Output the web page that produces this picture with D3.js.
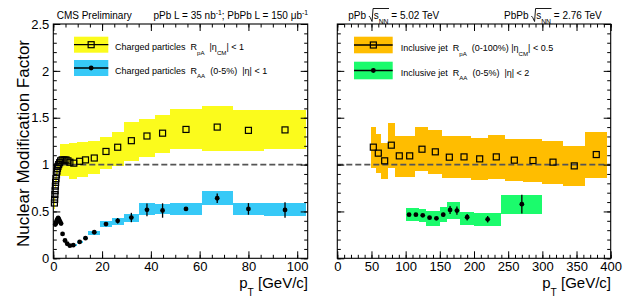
<!DOCTYPE html>
<html lang="en">
<head>
<meta charset="utf-8">
<title>Nuclear Modification Factor</title>
<script src="https://d3js.org/d3.v7.min.js"></script>
<style>
  body { margin: 0; background: #fff; }
  svg { display: block; }
</style>
</head>
<body>
<script>

// ---- charged particles R_pA (yellow band, open squares)
var chRpAPt = [0.45,0.55,0.65,0.75,0.85,0.95,1.1,1.3,1.5,1.7,1.9,2.2,2.6,3.0,
               3.6,4.4,5.2,6.0,6.8,8.4,10.8,13.2,16.8,21.6,26.4,32.0,38.4,44.8,54.4,67.2,80.0,95.0];
var chRpA = [0.59,0.63,0.68,0.72,0.77,0.81,0.85,0.89,0.93,0.96,0.98,1.00,1.02,1.04,
             1.05,1.05,1.05,1.04,1.025,1.015,1.035,1.05,1.07,1.14,1.185,1.255,1.305,1.335,1.375,1.40,1.365,1.37];
var chRpAErr = [0.005,0.005,0.005,0.005,0.005,0.005,0.005,0.005,0.005,0.005,0.005,0.005,0.005,0.005,
                0.005,0.005,0.005,0.005,0.005,0.005,0.005,0.005,0.01,0.01,0.01,0.015,0.02,0.025,0.01,0.02,0.025,0.03];
var chRpAEdges = [0.4,0.5,0.6,0.7,0.8,0.9,1.0,1.2,1.4,1.6,1.8,2.0,2.4,2.8,3.2,4.0,4.8,5.6,6.4,7.2,
                  9.6,12,14.4,19.2,24,28.8,35.2,41.6,48,60.8,73.6,86.4,103.6];
var chRpASysLo = [0.53,0.57,0.62,0.66,0.71,0.75,0.79,0.83,0.87,0.90,0.92,0.94,0.95,0.88,
                  0.88,0.88,0.88,0.88,0.85,0.85,0.87,0.87,0.90,0.95,0.99,1.035,1.085,1.12,1.165,1.14,1.146,1.165];
var chRpASysHi = [0.65,0.69,0.74,0.78,0.83,0.87,0.91,0.95,0.99,1.02,1.04,1.06,1.09,1.22,
                  1.22,1.22,1.22,1.22,1.23,1.23,1.24,1.24,1.25,1.29,1.35,1.45,1.49,1.53,1.595,1.62,1.585,1.585];

// ---- charged particles R_AA 0-5% (blue band, full circles)
var chRaaPt = [0.8,1.0,1.2,1.4,1.6,1.8,2.0,2.2,2.4,2.8,3.2,3.8,4.8,5.7,6.8,8.2,10.8,13.2,
               16.8,21.6,26.4,32.0,38.4,44.8,54.4,67.2,80.0,95.0];
var chRaa = [0.36,0.37,0.38,0.40,0.41,0.42,0.43,0.42,0.41,0.39,0.37,0.26,0.19,0.155,0.135,0.14,0.175,0.215,
             0.278,0.365,0.40,0.435,0.517,0.51,0.527,0.641,0.527,0.516];
var chRaaErr = [0.005,0.005,0.005,0.005,0.005,0.005,0.005,0.005,0.005,0.005,0.005,0.005,0.005,0.005,0.005,0.005,0.005,0.008,
                0.01,0.015,0.03,0.05,0.068,0.077,0.02,0.05,0.062,0.083];
var chRaaEdges = [0.7,0.9,1.1,1.3,1.5,1.7,1.9,2.1,2.3,2.6,3.0,3.4,4.2,5.2,6.2,7.4,9.6,12,14.4,
                  19.2,24,28.8,35.2,41.6,48,60.8,73.6,86.4,103.6];
var chRaaSysLo = [0.35,0.36,0.37,0.39,0.40,0.41,0.42,0.41,0.40,0.38,0.36,0.25,0.18,0.145,0.125,0.13,0.165,0.205,
                  0.249,0.33,0.356,0.39,0.462,0.473,0.462,0.569,0.462,0.452];
var chRaaSysHi = [0.37,0.38,0.39,0.41,0.42,0.43,0.44,0.43,0.42,0.40,0.38,0.27,0.20,0.165,0.145,0.15,0.185,0.225,
                  0.295,0.398,0.427,0.473,0.587,0.577,0.587,0.719,0.594,0.587];

// ---- inclusive jet R_pA (orange band, open squares)
var jetRpaPt = [52.7,60,69.3,79,90.7,105.9,123.9,143.4,163.9,185.4,208.3,232.6,259,286.3,315.6,346.7,378.9];
var jetRpa = [1.186,1.122,1.04,1.207,1.093,1.093,1.164,1.136,1.079,1.082,1.061,1.082,1.047,1.043,1.026,0.986,1.107];
var jetRpaErr = [0.01,0.01,0.01,0.01,0.01,0.01,0.01,0.01,0.01,0.01,0.01,0.01,0.01,0.015,0.015,0.02,0.035];
var jetRpaEdges = [49,56,64,74,84,97,114,133,153,174,196,220,245,272,300,330,362,395];
var jetRpaSysLo = [0.968,0.915,0.844,0.968,0.872,0.872,0.933,0.90,0.855,0.855,0.837,0.847,0.826,0.812,0.794,0.772,0.862];
var jetRpaSysHi = [1.406,1.328,1.235,1.442,1.31,1.31,1.399,1.371,1.307,1.307,1.282,1.317,1.275,1.271,1.253,1.203,1.352];

// ---- inclusive jet R_AA 0-5% (green band, full circles)
var jetRaaPt = [105,115,125,135,145,155,165,175,190,220,270];
var jetRaa = [0.466,0.466,0.459,0.434,0.427,0.466,0.516,0.509,0.438,0.416,0.577];
var jetRaaErr = [0.01,0.01,0.012,0.014,0.015,0.02,0.043,0.045,0.035,0.035,0.1];
var jetRaaEdges = [100,110,120,130,140,150,160,170,180,200,240,300];
var jetRaaSysLo = [0.402,0.402,0.385,0.345,0.345,0.391,0.42,0.42,0.356,0.345,0.473];
var jetRaaSysHi = [0.534,0.534,0.523,0.505,0.505,0.545,0.598,0.598,0.498,0.487,0.676];

// ticks
var yMajor = [0, 0.5, 1, 1.5, 2, 2.5];
var yMinor = d3.range(0, 2.55, 0.1);
var xLMajor = [0, 20, 40, 60, 80, 100];
var xLMinor = d3.range(0, 105, 5);
var xRMajor = [0, 50, 100, 150, 200, 250, 300, 350, 400];
var xRMinor = d3.range(0, 401, 10);

var FONT = "'Liberation Sans', Arial, Helvetica, sans-serif";
var yellow = "#fbfb1c", blue = "#37c9f7", orange = "#ffbd00", green = "#1bfb6c";

var svg = d3.select("body").append("svg")
            .attr("width", 637)
            .attr("height", 305)
            .style("font-family", FONT);

var yTop = 24, yBot = 258.3;
var y = d3.scaleLinear().domain([0, 2.5]).range([yBot, yTop]);
var xL = d3.scaleLinear().domain([0, 104.3]).range([53.3, 307.7]);
var xR = d3.scaleLinear().domain([0, 400]).range([337.3, 610.7]);

// systematic boxes, one per bin
function boxes(x, edges, lo, hi, color) {
  svg.append("g").selectAll("rect")
     .data(lo)
     .enter().append("rect")
     .attr("x", function(d, i) { return x(edges[i]); })
     .attr("width", function(d, i) { return x(edges[i + 1]) - x(edges[i]); })
     .attr("y", function(d, i) { return y(hi[i]); })
     .attr("height", function(d, i) { return y(lo[i]) - y(hi[i]); })
     .attr("fill", color)
     .attr("shape-rendering", "crispEdges");
}

// stat error bars, only the part sticking out of the marker
function errBars(x, pt, val, err, hs) {
  var g = svg.append("g").attr("stroke", "#000").attr("stroke-width", 1.3);
  pt.forEach(function(p, i) {
    var cx = x(p), cy = y(val[i]), top = y(val[i] + err[i]), bot = y(val[i] - err[i]);
    if (cy - top <= hs + 0.5) return;
    g.append("line").attr("x1", cx).attr("x2", cx).attr("y1", top).attr("y2", cy - hs);
    g.append("line").attr("x1", cx).attr("x2", cx).attr("y1", cy + hs).attr("y2", bot);
  });
}

function squares(x, pt, val) {
  svg.append("g").selectAll("rect")
     .data(val)
     .enter().append("rect")
     .attr("x", function(d, i) { return x(pt[i]) - 3; })
     .attr("y", function(d) { return y(d) - 3; })
     .attr("width", 6).attr("height", 6)
     .attr("fill", "none").attr("stroke", "#000").attr("stroke-width", 1.2);
}

function dots(x, pt, val) {
  svg.append("g").selectAll("circle")
     .data(val)
     .enter().append("circle")
     .attr("cx", function(d, i) { return x(pt[i]); })
     .attr("cy", function(d) { return y(d); })
     .attr("r", 2.4)
     .attr("fill", "#000");
}

function unityLine(x) {
  svg.append("line")
     .attr("x1", x.range()[0]).attr("x2", x.range()[1])
     .attr("y1", y(1)).attr("y2", y(1))
     .attr("stroke", "#555").attr("stroke-width", 1.8)
     .attr("stroke-dasharray", "6,3");
}

function frame(x, major, minor, yLabels) {
  var x0 = x.range()[0], x1 = x.range()[1];
  function fix(g) {
    g.select(".domain").remove();
    g.attr("font-family", null).attr("font-size", 13);
  }
  svg.append("g").attr("transform", "translate(0," + yBot + ")")
     .call(d3.axisBottom(x).tickValues(major).tickSize(-7).tickSizeOuter(0).tickPadding(3.8)
             .tickFormat(function(d) { return String(d); }))
     .call(fix);
  svg.append("g").attr("transform", "translate(0," + yBot + ")")
     .call(d3.axisBottom(x).tickValues(minor).tickSize(-3.5).tickSizeOuter(0).tickFormat(""))
     .call(fix);
  svg.append("g").attr("transform", "translate(0," + yTop + ")")
     .call(d3.axisTop(x).tickValues(major).tickSize(-7).tickSizeOuter(0).tickFormat(""))
     .call(fix);
  svg.append("g").attr("transform", "translate(0," + yTop + ")")
     .call(d3.axisTop(x).tickValues(minor).tickSize(-3.5).tickSizeOuter(0).tickFormat(""))
     .call(fix);
  svg.append("g").attr("transform", "translate(" + x0 + ",0)")
     .call(d3.axisLeft(y).tickValues(yMajor).tickSize(-7).tickSizeOuter(0).tickPadding(4)
             .tickFormat(yLabels ? function(d) { return String(d); } : ""))
     .call(fix);
  svg.append("g").attr("transform", "translate(" + x0 + ",0)")
     .call(d3.axisLeft(y).tickValues(yMinor).tickSize(-3.5).tickSizeOuter(0).tickFormat(""))
     .call(fix);
  svg.append("g").attr("transform", "translate(" + x1 + ",0)")
     .call(d3.axisRight(y).tickValues(yMajor).tickSize(-7).tickSizeOuter(0).tickFormat(""))
     .call(fix);
  svg.append("g").attr("transform", "translate(" + x1 + ",0)")
     .call(d3.axisRight(y).tickValues(yMinor).tickSize(-3.5).tickSizeOuter(0).tickFormat(""))
     .call(fix);
  svg.append("rect")
     .attr("x", x0).attr("y", yTop)
     .attr("width", x1 - x0).attr("height", yBot - yTop)
     .attr("fill", "none").attr("stroke", "#000").attr("stroke-width", 1.1);
}

// text with ROOT-like sub/superscripts and sqrt
function rich(x0, y0, parts, size, anchor) {
  var g = svg.append("g");
  var cx = 0, ovFrom = null, ovTo = null;
  parts.forEach(function(p) {
    if (p.rad) {
      g.append("path")
       .attr("d", "M" + cx + "," + (-size * 0.3) + " l1.4,1.6 L" + (cx + 3.2) + "," + (size * 0.25) +
                  " L" + (cx + 4.2) + "," + (-size * 1.05))
       .attr("fill", "none").attr("stroke", "#000").attr("stroke-width", 0.9);
      ovFrom = cx + 4.2;
      cx += 4.8;
      return;
    }
    var fs = p.s ? size * 0.68 : size;
    var dy = p.s == "sub" ? size * 0.5 : (p.s == "sup" ? -size * 0.42 : 0);
    var t = g.append("text")
             .attr("x", cx).attr("y", dy)
             .attr("font-size", fs)
             .attr("xml:space", "preserve")
             .style("white-space", "pre")
             .text(p.t);
    cx += t.node().getComputedTextLength();
    if (p.ov) ovTo = cx;
  });
  if (ovFrom != null && ovTo != null) {
    g.append("line").attr("x1", ovFrom).attr("x2", ovTo + 0.5)
     .attr("y1", -size * 1.05).attr("y2", -size * 1.05)
     .attr("stroke", "#000").attr("stroke-width", 0.9);
  }
  var shift = anchor == "end" ? -cx : 0;
  g.attr("transform", "translate(" + (x0 + shift) + "," + y0 + ")");
}

// ---------------- left panel
boxes(xL, chRpAEdges, chRpASysLo, chRpASysHi, yellow);
boxes(xL, chRaaEdges, chRaaSysLo, chRaaSysHi, blue);
unityLine(xL);
errBars(xL, chRpAPt, chRpA, chRpAErr, 3);
errBars(xL, chRaaPt, chRaa, chRaaErr, 0);
squares(xL, chRpAPt, chRpA);
dots(xL, chRaaPt, chRaa);
frame(xL, xLMajor, xLMinor, true);

// ---------------- right panel
boxes(xR, jetRpaEdges, jetRpaSysLo, jetRpaSysHi, orange);
boxes(xR, jetRaaEdges, jetRaaSysLo, jetRaaSysHi, green);
unityLine(xR);
errBars(xR, jetRpaPt, jetRpa, jetRpaErr, 3);
errBars(xR, jetRaaPt, jetRaa, jetRaaErr, 0);
squares(xR, jetRpaPt, jetRpa);
dots(xR, jetRaaPt, jetRaa);
frame(xR, xRMajor, xRMinor, false);

// ---------------- legends
function legendEntry(x0, y0, w, h, color, marker) {
  svg.append("rect").attr("x", x0).attr("y", y0).attr("width", w).attr("height", h)
     .attr("fill", color);
  var cy = y0 + h / 2, cx = x0 + w / 2;
  svg.append("line").attr("x1", x0).attr("x2", x0 + w).attr("y1", cy).attr("y2", cy)
     .attr("stroke", "#000").attr("stroke-width", 1.3);
  if (marker == "square") {
    svg.append("rect").attr("x", cx - 3).attr("y", cy - 3).attr("width", 6).attr("height", 6)
       .attr("fill", "none").attr("stroke", "#000").attr("stroke-width", 1.2);
  } else {
    svg.append("circle").attr("cx", cx).attr("cy", cy).attr("r", 2.4).attr("fill", "#000");
  }
}

legendEntry(74, 36.7, 34.3, 16, yellow, "square");
legendEntry(74, 60, 34.3, 16, blue, "dot");
legendEntry(354, 36.7, 38.7, 16.6, orange, "square");
legendEntry(354, 61.7, 38.7, 17.6, green, "dot");

var LS = 9;
rich(115, 50.3, [{t: "Charged particles  R"}, {t: "pA", s: "sub"}, {t: "  |\u03b7"}, {t: "CM", s: "sub"}, {t: "| < 1"}], LS);
rich(115, 73.7, [{t: "Charged particles  R"}, {t: "AA", s: "sub"}, {t: "  (0-5%)  |\u03b7| < 1"}], LS);
rich(400.7, 51, [{t: "Inclusive jet  R"}, {t: "pA", s: "sub"}, {t: "  (0-100%) |\u03b7"}, {t: "CM", s: "sub"}, {t: "| < 0.5"}], LS);
rich(400.7, 75.5, [{t: "Inclusive jet  R"}, {t: "AA", s: "sub"}, {t: "  (0-5%)  |\u03b7| < 2"}], LS);

// ---------------- headers
rich(56.7, 19, [{t: "CMS Preliminary"}], 10);
rich(308, 19, [{t: "pPb L = 35 nb"}, {t: "-1", s: "sup"}, {t: "; PbPb L = 150 \u03bcb"}, {t: "-1", s: "sup"}], 10, "end");
rich(348.3, 19, [{t: "pPb "}, {rad: true}, {t: "s", ov: true}, {t: "NN", s: "sub", ov: true}, {t: " = 5.02 TeV"}], 10);
rich(601.7, 19, [{t: "PbPb "}, {rad: true}, {t: "s", ov: true}, {t: "NN", s: "sub", ov: true}, {t: " = 2.76 TeV"}], 10, "end");

// ---------------- axis titles
svg.append("text")
   .attr("transform", "translate(29,40) rotate(-90)")
   .attr("text-anchor", "end")
   .attr("font-size", 17)
   .text("Nuclear Modification Factor");
rich(308, 288, [{t: "p"}, {t: "T", s: "sub"}, {t: " [GeV/c]"}], 15, "end");
rich(611, 288, [{t: "p"}, {t: "T", s: "sub"}, {t: " [GeV/c]"}], 15, "end");

</script>
</body>
</html>
